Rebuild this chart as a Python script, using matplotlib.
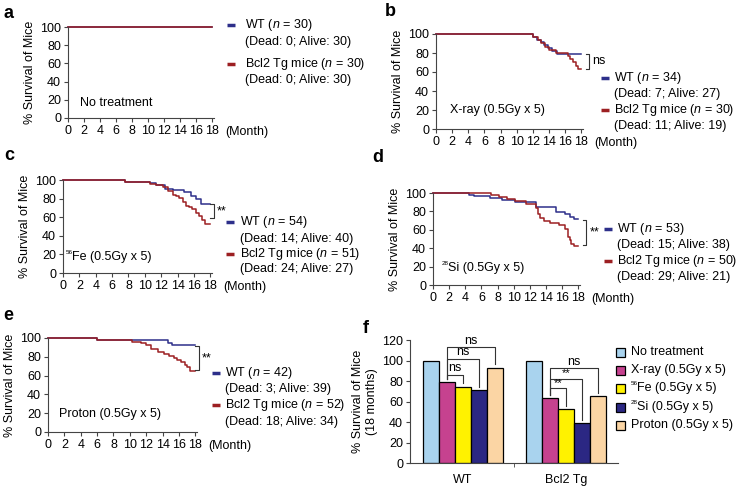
import matplotlib.pyplot as plt
from matplotlib.lines import Line2D
from matplotlib.patches import Rectangle

plt.rcParams['font.family'] = ['Liberation Sans', 'DejaVu Sans']
plt.rcParams['font.size'] = 9
plt.rcParams['mathtext.fontset'] = 'custom'
plt.rcParams['mathtext.rm'] = 'Liberation Sans'
plt.rcParams['mathtext.it'] = 'Liberation Sans:italic'

W, H = 738, 486
navy = '#2d2f8a'
red = '#9c1f22'

# ---- survival curves (month, % survival)
a_wt_t = [0, 18]
a_wt_s = [100, 100]
a_tg_t = [0, 18]
a_tg_s = [100, 100]

b_wt_t = [0, 12.0, 12.5, 13.0, 13.4, 13.9, 14.4, 15.0, 18]
b_wt_s = [100, 97.1, 94.1, 91.2, 88.2, 85.3, 82.4, 79.4, 79.4]
b_tg_t = [0, 12.0, 12.6, 13.0, 13.5, 14.0, 14.8, 16.3, 16.6, 17.0, 17.3, 17.6, 18]
b_tg_s = [100, 96.7, 93.3, 90.0, 86.7, 83.3, 80.0, 76.7, 73.3, 70.0, 66.7, 63.3, 63.3]

c_wt_t = [0, 7.6, 10.6, 11.4, 12.4, 13.4, 14.8, 15.6, 16.2, 16.8, 18]
c_wt_s = [100, 98.1, 96.3, 94.4, 90.7, 88.9, 87.0, 83.3, 79.6, 74.1, 74.1]
c_tg_t = [0, 7.6, 10.6, 11.4, 12.2, 12.8, 13.4, 13.8, 14.2, 14.6, 15.0, 15.4, 15.8, 16.2, 16.6, 17.0, 17.4, 18]
c_tg_s = [100, 98.0, 96.1, 94.1, 92.2, 88.2, 84.3, 82.4, 80.4, 76.5, 72.5, 70.6, 68.6, 64.7, 60.8, 56.9, 52.9, 52.9]

d_wt_t = [0, 4.5, 5.1, 7.0, 8.6, 10.2, 12.7, 15.2, 16.4, 17.0, 17.4, 18]
d_wt_s = [100, 98.1, 96.2, 94.3, 92.5, 90.6, 84.9, 79.2, 77.4, 73.6, 71.7, 71.7]
d_tg_t = [0, 7.2, 8.2, 9.2, 10.2, 11.5, 12.7, 13.0, 13.3, 13.7, 14.5, 15.6, 16.4, 16.7, 16.9, 17.1, 17.4, 18]
d_tg_s = [100, 98.0, 96.0, 93.9, 91.8, 87.7, 83.5, 77.3, 73.2, 69.1, 67.0, 64.9, 60.8, 52.5, 48.4, 44.3, 42.2, 42.2]

e_wt_t = [0, 6.0, 14.6, 15.2, 18]
e_wt_s = [100, 97.6, 95.2, 92.9, 92.9]
e_tg_t = [0, 6.0, 10.3, 11.3, 12.0, 12.6, 13.4, 14.2, 14.8, 15.4, 15.8, 16.3, 16.7, 17.0, 17.3, 18]
e_tg_s = [100, 98.1, 96.2, 94.2, 92.3, 88.5, 84.6, 82.7, 80.8, 78.8, 76.9, 75.0, 71.2, 69.2, 65.4, 65.4]

# ---- bar chart (18 months)
groups = ['WT', 'Bcl2 Tg']
# (small superscript mass number, label text)
treatments = [('', 'No treatment'), ('', 'X-ray (0.5Gy x 5)'), ('56', 'Fe (0.5Gy x 5)'),
              ('28', 'Si (0.5Gy x 5)'), ('', 'Proton (0.5Gy x 5)')]
wt_vals = [100, 79.4, 74.1, 71.7, 92.9]
tg_vals = [100, 63.3, 52.9, 39.0, 65.4]
bar_colors = ['#a9d3ee', '#c6428f', '#fff200', '#2b2783', '#fbd5a4']


def px(x, y):
    return x / W, 1 - y / H


def box(x0, y0, x1, y1):
    return [x0 / W, 1 - y1 / H, (x1 - x0) / W, (y1 - y0) / H]


def iso_label(artist_owner, xy, coords, mass, text):
    # label with a tiny superscript mass number in front, like 56Fe
    shift = 0
    if mass:
        artist_owner.annotate(mass, xy=xy, xycoords=coords, xytext=(0, 1.5),
                              textcoords='offset points', fontsize=4.5, va='bottom')
        shift = 4.5
    artist_owner.annotate(text, xy=xy, xycoords=coords, xytext=(shift, 0),
                          textcoords='offset points', va='center')


def km_axes(fig, rect):
    ax = fig.add_axes(rect)
    ax.spines['top'].set_visible(False)
    ax.spines['right'].set_visible(False)
    for s in ('left', 'bottom'):
        ax.spines[s].set_color('#444444')
    ax.set_xlim(0, 18.2)
    ax.set_ylim(0, 100)
    ax.set_xticks(range(0, 19, 2))
    ax.set_yticks(range(0, 101, 20))
    ax.tick_params(length=3, width=0.8, pad=2, color='#444444')
    ax.set_ylabel('% Survival of Mice', labelpad=3)
    ax.annotate('(Month)', xy=(1, 0), xycoords='axes fraction', xytext=(8, -10),
                textcoords='offset points', va='center', ha='left')
    return ax


def km_legend(fig, xm, xt, ys, entries):
    k = 0
    for color, l1, l2 in entries:
        x, y = px(xm, ys[k])
        fig.add_artist(Line2D([x - 4 / W, x + 4 / W], [y, y], color=color, lw=2.5,
                              solid_capstyle='butt'))
        fig.text(*px(xt, ys[k]), l1, va='center')
        fig.text(*px(xt, ys[k + 1]), l2, va='center')
        k += 2


def sig(ax, x, y_top, y_bot, label):
    ax.plot([x - 0.45, x, x, x - 0.45], [y_top, y_top, y_bot, y_bot],
            color='#333333', lw=0.8, clip_on=False)
    ax.text(x + 0.35, (y_top + y_bot) / 2, label, va='center', ha='left')


fig = plt.figure(figsize=(W / 100, H / 100), dpi=100)

panels = [
    ('a', box(68, 27, 214, 118), a_wt_t, a_wt_s, a_tg_t, a_tg_s, '', 'No treatment', (1.5, 17)),
    ('b', box(436, 34, 583, 129), b_wt_t, b_wt_s, b_tg_t, b_tg_s, '', 'X-ray (0.5Gy x 5)', (1.7, 20)),
    ('c', box(63, 180, 212, 273), c_wt_t, c_wt_s, c_tg_t, c_tg_s, '56', 'Fe (0.5Gy x 5)', (0.35, 17)),
    ('d', box(433, 193, 580, 285), d_wt_t, d_wt_s, d_tg_t, d_tg_s, '28', 'Si (0.5Gy x 5)', (1.1, 18)),
    ('e', box(48, 338, 197, 432), e_wt_t, e_wt_s, e_tg_t, e_tg_s, '', 'Proton (0.5Gy x 5)', (1.4, 19)),
]
axes = {}
for name, rect, wt_t, wt_s, tg_t, tg_s, mass, note, pos in panels:
    ax = km_axes(fig, rect)
    ax.plot(wt_t, wt_s, drawstyle='steps-post', color=navy, lw=1.1, clip_on=False)
    ax.plot(tg_t, tg_s, drawstyle='steps-post', color=red, lw=1.1, clip_on=False)
    iso_label(ax, pos, 'data', mass, note)
    axes[name] = ax

sig(axes['b'], 19.0, 79.4, 63.3, 'ns')
sig(axes['c'], 18.4, 74, 59, '**')
sig(axes['d'], 19.0, 71, 43, '**')
sig(axes['e'], 18.4, 91, 66, '**')

km_legend(fig, 231, 245, [25, 41.5, 64, 80],
          [(navy, 'WT ($n$ = 30)', '(Dead: 0; Alive: 30)'),
           (red, 'Bcl2 Tg mice ($n$ = 30)', '(Dead: 0; Alive: 30)')])
km_legend(fig, 605, 614, [78, 94, 110, 126],
          [(navy, 'WT ($n$ = 34)', '(Dead: 7; Alive: 27)'),
           (red, 'Bcl2 Tg mice ($n$ = 30)', '(Dead: 11; Alive: 19)')])
km_legend(fig, 230, 240, [222, 239, 254, 269],
          [(navy, 'WT ($n$ = 54)', '(Dead: 14; Alive: 40)'),
           (red, 'Bcl2 Tg mice ($n$ = 51)', '(Dead: 24; Alive: 27)')])
km_legend(fig, 608, 617, [229, 245, 261, 277],
          [(navy, 'WT ($n$ = 53)', '(Dead: 15; Alive: 38)'),
           (red, 'Bcl2 Tg mice ($n$ = 50)', '(Dead: 29; Alive: 21)')])
km_legend(fig, 216, 225, [373, 389, 405, 422],
          [(navy, 'WT ($n$ = 42)', '(Dead: 3; Alive: 39)'),
           (red, 'Bcl2 Tg mice ($n$ = 52)', '(Dead: 18; Alive: 34)')])

# ---- panel f
axf = fig.add_axes(box(410, 340, 618, 463))
axf.spines['top'].set_visible(False)
axf.spines['right'].set_visible(False)
for s in ('left', 'bottom'):
    axf.spines[s].set_color('#444444')
bw = 0.2
centers = [0, 1.29]
for g, vals in enumerate([wt_vals, tg_vals]):
    xs = [centers[g] + (i - 2) * bw for i in range(len(vals))]
    axf.bar(xs, vals, width=bw, color=bar_colors, edgecolor='black', linewidth=0.9)
axf.set_xlim(-0.66, 1.94)
axf.set_ylim(0, 120)
axf.set_yticks(range(0, 121, 20))
axf.set_xticks(centers)
axf.set_xticklabels(groups)
axf.set_xticks([(centers[0] + centers[1]) / 2], minor=True)
axf.tick_params(axis='x', which='major', length=0, pad=8)
axf.tick_params(axis='x', which='minor', length=3, color='#444444')
axf.tick_params(axis='y', length=3, width=0.8, pad=2, color='#444444')
axf.set_ylabel('% Survival of Mice\n(18 months)', labelpad=3)


def bracket(ax, g, i, j, top, l_end, r_end, label):
    x1 = centers[g] + (i - 2) * bw
    x2 = centers[g] + (j - 2) * bw
    ax.plot([x1, x1, x2, x2], [l_end, top, top, r_end], color='#333333', lw=0.8)
    ax.text((x1 + x2) / 2, top + 0.5, label, ha='center', va='bottom',
            fontsize=9 if label == 'ns' else 8)


bracket(axf, 0, 1, 2, 86, 82, 78, 'ns')
bracket(axf, 0, 1, 3, 101.5, 82, 74, 'ns')
bracket(axf, 0, 1, 4, 113, 82, 96.5, 'ns')
bracket(axf, 1, 1, 2, 73, 66, 56, '**')
bracket(axf, 1, 1, 3, 82, 66, 42, '**')
bracket(axf, 1, 1, 4, 92.5, 66, 68, 'ns')

# legend of panel f, drawn row by row
leg_ys = [352, 370, 388, 407, 425]
for c, (mass, lab), y in zip(bar_colors, treatments, leg_ys):
    x0, y0 = px(616, y + 4.5)
    fig.add_artist(Rectangle((x0, y0), 9 / W, 9 / H, facecolor=c, edgecolor='black',
                             linewidth=0.9))
    iso_label(axf, px(631, y), 'figure fraction', mass, lab)

for lab, x, y in [('a', 9, 13), ('b', 390, 12), ('c', 9, 156), ('d', 378, 157),
                  ('e', 8, 315), ('f', 366, 328)]:
    fig.text(*px(x, y), lab, fontsize=13, fontweight='bold', ha='center', va='center')

fig.savefig('out.png', dpi=100)
